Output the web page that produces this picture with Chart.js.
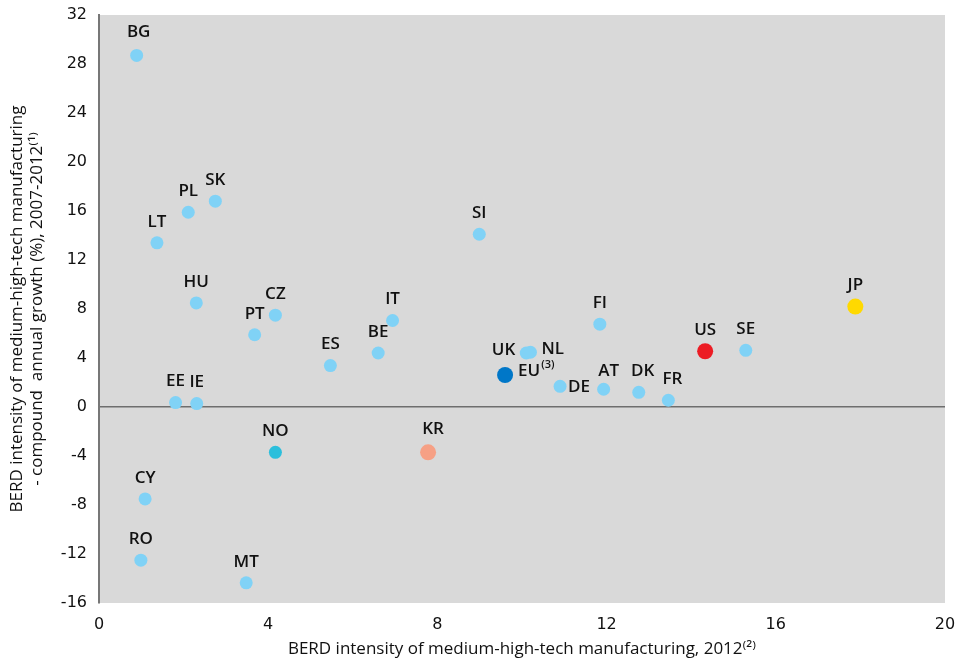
<!DOCTYPE html>
<html>
<head>
<meta charset="utf-8">
<script src="https://cdn.jsdelivr.net/npm/chart.js@4.4.1/dist/chart.umd.min.js"></script>
<style>
  html, body { margin: 0; padding: 0; background: #ffffff; }
  #wrap { width: 961px; height: 659px; }
</style>
</head>
<body>
<div id="wrap"><canvas id="berdChart" width="961" height="659"></canvas></div>
<script>
// Country codes and values
const codes = ['BG', 'PL', 'SK', 'LT', 'HU', 'CZ', 'PT', 'EE', 'IE', 'NO', 'CY', 'RO', 'MT',
               'SI', 'IT', 'BE', 'ES', 'UK', 'NL', 'EU', 'DE', 'FI', 'AT', 'KR', 'DK', 'FR',
               'US', 'SE', 'JP'];
const berdIntensity = [0.89, 2.11, 2.75, 1.37, 2.30, 4.17, 3.68, 1.81, 2.31, 4.17, 1.09, 0.99, 3.48,
                       8.99, 6.94, 6.60, 5.47, 10.10, 10.20, 9.60, 10.90, 11.84, 11.93, 7.78, 12.76, 13.46,
                       14.33, 15.29, 17.88];
const berdGrowth = [28.7, 15.9, 16.8, 13.4, 8.5, 7.5, 5.9, 0.36, 0.28, -3.7, -7.5, -12.5, -14.35,
                    14.1, 7.06, 4.41, 3.38, 4.41, 4.47, 2.61, 1.69, 6.76, 1.45, -3.7, 1.2, 0.55,
                    4.55, 4.63, 8.2];
const xTicks = [0, 4, 8, 12, 16, 20];
const yTicks = [-16, -12, -8, -4, 0, 4, 8, 12, 16, 20, 24, 28, 32];

// Colours for the highlighted points, everything else light blue
const pointColours = { EU: '#0077c8', US: '#ec1c24', JP: '#ffd900', KR: '#f6a085', NO: '#2bbfdc' };
const defaultColour = '#80d2f6';
const bigPoints = ['EU', 'US', 'JP', 'KR'];

// Label placement (where the text sits relative to its point)
const labelPlace = {
  UK: { align: 'right', dx: -11, dy: -3 },
  NL: { align: 'left', dx: 11, dy: -3 },
  EU: { align: 'left', dx: 13, dy: -4, sup: '(3)' },
  DE: { align: 'left', dx: 8, dy: 1 },
  AT: { dx: 5, dy: -18 },
  DK: { dx: 4, dy: -21 },
  FR: { dx: 4, dy: -21 },
  KR: { dx: 5, dy: -23 },
  BG: { dx: 2, dy: -23 }
};

const points = codes.map((c, i) => ({ x: berdIntensity[i], y: berdGrowth[i], code: c }));

const labelFont = '"Open Sans", "DejaVu Sans", sans-serif';
const tickFont = { family: '"DejaVu Sans", sans-serif', size: 16 };
const titleFont = { family: '"Open Sans", "DejaVu Sans", sans-serif', size: 17 };

const plotBackground = {
  id: 'plotBackground',
  beforeDraw(chart) {
    const { ctx, chartArea: a } = chart;
    ctx.save();
    ctx.fillStyle = '#d9d9d9';
    ctx.fillRect(a.left, a.top, a.right - a.left, a.bottom - a.top);
    ctx.restore();
  }
};

const pointLabels = {
  id: 'pointLabels',
  afterDatasetsDraw(chart) {
    const ctx = chart.ctx;
    const meta = chart.getDatasetMeta(0);
    ctx.save();
    ctx.fillStyle = '#111111';
    ctx.textBaseline = 'middle';
    meta.data.forEach((el, i) => {
      const code = codes[i];
      const p = labelPlace[code] || {};
      const align = p.align || 'center';
      const dx = p.dx !== undefined ? p.dx : 0;
      const dy = p.dy !== undefined ? p.dy : -21;
      ctx.font = '600 17px ' + labelFont;
      ctx.textAlign = align;
      const tx = el.x + dx, ty = el.y + dy;
      ctx.fillText(code, tx, ty);
      if (p.sup) {
        const w = ctx.measureText(code).width;
        ctx.font = '600 11px ' + labelFont;
        ctx.textAlign = 'left';
        ctx.fillText(p.sup, tx + w + 1, ty - 6);
      }
    });
    ctx.restore();
  }
};

new Chart(document.getElementById('berdChart').getContext('2d'), {
  type: 'scatter',
  data: {
    datasets: [{
      data: points,
      pointBackgroundColor: points.map(p => pointColours[p.code] || defaultColour),
      pointBorderWidth: 0,
      pointRadius: points.map(p => bigPoints.includes(p.code) ? 8 : 6.5),
      pointHoverRadius: points.map(p => bigPoints.includes(p.code) ? 8 : 6.5)
    }]
  },
  options: {
    responsive: false,
    animation: false,
    layout: { padding: { top: 15, right: 16, left: 0, bottom: 0 } },
    plugins: {
      legend: { display: false },
      tooltip: { enabled: false }
    },
    scales: {
      x: {
        type: 'linear',
        min: 0,
        max: 20,
        afterBuildTicks: s => { s.ticks = xTicks.map(v => ({ value: v })); },
        afterFit: s => {
          s.height = 56;
          s.paddingLeft = 0;
          s.paddingRight = 0;
        },
        grid: { display: false, drawTicks: false },
        border: { display: false },
        ticks: { color: '#111111', padding: 12, font: tickFont },
        title: {
          display: true,
          text: 'BERD intensity of medium-high-tech manufacturing, 2012⁽²⁾',
          color: '#111111',
          padding: { top: 0, bottom: 0 },
          font: titleFont
        }
      },
      y: {
        type: 'linear',
        min: -16,
        max: 32,
        afterBuildTicks: s => { s.ticks = yTicks.map(v => ({ value: v })); },
        afterFit: s => {
          s.width = 99;
          s.paddingTop = 0;
          s.paddingBottom = 0;
        },
        grid: {
          drawTicks: false,
          color: c => c.tick && c.tick.value === 0 ? '#6e6e6e' : 'rgba(0,0,0,0)',
          lineWidth: 1.5
        },
        border: { display: true, color: '#777777', width: 2 },
        ticks: { color: '#111111', padding: 12, font: tickFont },
        title: {
          display: true,
          text: ['BERD intensity of medium-high-tech manufacturing', '- compound  annual growth (%), 2007-2012⁽¹⁾'],
          color: '#111111',
          padding: { top: 7, bottom: 0 },
          font: { ...titleFont, lineHeight: 1.2 }
        }
      }
    }
  },
  plugins: [plotBackground, pointLabels]
});
</script>
</body>
</html>
